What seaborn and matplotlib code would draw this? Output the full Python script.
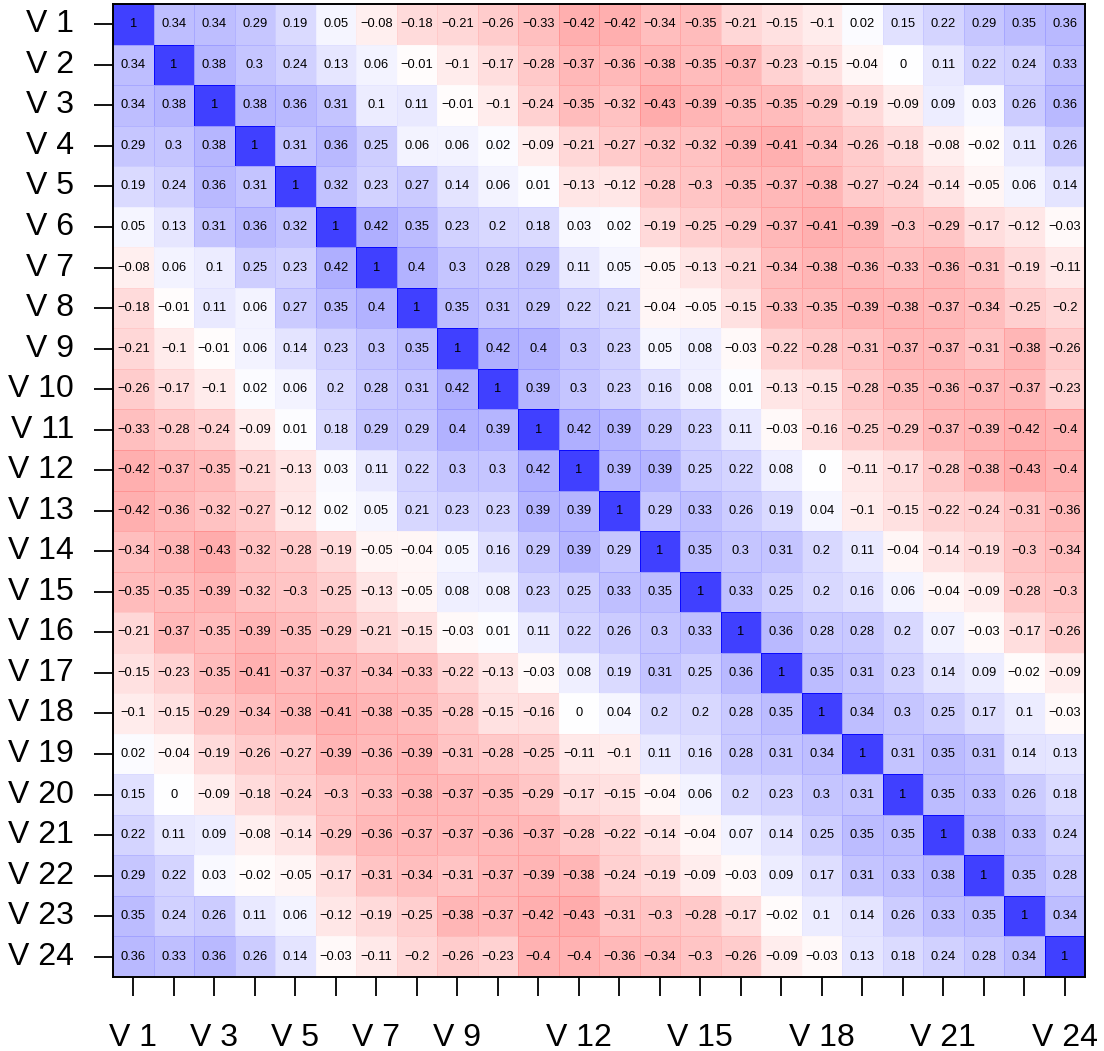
import numpy as np
import pandas as pd
import matplotlib.pyplot as plt
import seaborn as sns
from matplotlib.colors import LinearSegmentedColormap

# variable names and the ones R kept on the x axis
var_names = [f"V {i}" for i in range(1, 25)]
x_shown = ["V 1", "V 3", "V 5", "V 7", "V 9", "V 12", "V 15", "V 18", "V 21", "V 24"]

# correlation matrix, read row by row
corr_rows = [
    [1, 0.34, 0.34, 0.29, 0.19, 0.05, -0.08, -0.18, -0.21, -0.26, -0.33, -0.42, -0.42, -0.34, -0.35, -0.21, -0.15, -0.1, 0.02, 0.15, 0.22, 0.29, 0.35, 0.36],
    [0.34, 1, 0.38, 0.3, 0.24, 0.13, 0.06, -0.01, -0.1, -0.17, -0.28, -0.37, -0.36, -0.38, -0.35, -0.37, -0.23, -0.15, -0.04, 0, 0.11, 0.22, 0.24, 0.33],
    [0.34, 0.38, 1, 0.38, 0.36, 0.31, 0.1, 0.11, -0.01, -0.1, -0.24, -0.35, -0.32, -0.43, -0.39, -0.35, -0.35, -0.29, -0.19, -0.09, 0.09, 0.03, 0.26, 0.36],
    [0.29, 0.3, 0.38, 1, 0.31, 0.36, 0.25, 0.06, 0.06, 0.02, -0.09, -0.21, -0.27, -0.32, -0.32, -0.39, -0.41, -0.34, -0.26, -0.18, -0.08, -0.02, 0.11, 0.26],
    [0.19, 0.24, 0.36, 0.31, 1, 0.32, 0.23, 0.27, 0.14, 0.06, 0.01, -0.13, -0.12, -0.28, -0.3, -0.35, -0.37, -0.38, -0.27, -0.24, -0.14, -0.05, 0.06, 0.14],
    [0.05, 0.13, 0.31, 0.36, 0.32, 1, 0.42, 0.35, 0.23, 0.2, 0.18, 0.03, 0.02, -0.19, -0.25, -0.29, -0.37, -0.41, -0.39, -0.3, -0.29, -0.17, -0.12, -0.03],
    [-0.08, 0.06, 0.1, 0.25, 0.23, 0.42, 1, 0.4, 0.3, 0.28, 0.29, 0.11, 0.05, -0.05, -0.13, -0.21, -0.34, -0.38, -0.36, -0.33, -0.36, -0.31, -0.19, -0.11],
    [-0.18, -0.01, 0.11, 0.06, 0.27, 0.35, 0.4, 1, 0.35, 0.31, 0.29, 0.22, 0.21, -0.04, -0.05, -0.15, -0.33, -0.35, -0.39, -0.38, -0.37, -0.34, -0.25, -0.2],
    [-0.21, -0.1, -0.01, 0.06, 0.14, 0.23, 0.3, 0.35, 1, 0.42, 0.4, 0.3, 0.23, 0.05, 0.08, -0.03, -0.22, -0.28, -0.31, -0.37, -0.37, -0.31, -0.38, -0.26],
    [-0.26, -0.17, -0.1, 0.02, 0.06, 0.2, 0.28, 0.31, 0.42, 1, 0.39, 0.3, 0.23, 0.16, 0.08, 0.01, -0.13, -0.15, -0.28, -0.35, -0.36, -0.37, -0.37, -0.23],
    [-0.33, -0.28, -0.24, -0.09, 0.01, 0.18, 0.29, 0.29, 0.4, 0.39, 1, 0.42, 0.39, 0.29, 0.23, 0.11, -0.03, -0.16, -0.25, -0.29, -0.37, -0.39, -0.42, -0.4],
    [-0.42, -0.37, -0.35, -0.21, -0.13, 0.03, 0.11, 0.22, 0.3, 0.3, 0.42, 1, 0.39, 0.39, 0.25, 0.22, 0.08, 0, -0.11, -0.17, -0.28, -0.38, -0.43, -0.4],
    [-0.42, -0.36, -0.32, -0.27, -0.12, 0.02, 0.05, 0.21, 0.23, 0.23, 0.39, 0.39, 1, 0.29, 0.33, 0.26, 0.19, 0.04, -0.1, -0.15, -0.22, -0.24, -0.31, -0.36],
    [-0.34, -0.38, -0.43, -0.32, -0.28, -0.19, -0.05, -0.04, 0.05, 0.16, 0.29, 0.39, 0.29, 1, 0.35, 0.3, 0.31, 0.2, 0.11, -0.04, -0.14, -0.19, -0.3, -0.34],
    [-0.35, -0.35, -0.39, -0.32, -0.3, -0.25, -0.13, -0.05, 0.08, 0.08, 0.23, 0.25, 0.33, 0.35, 1, 0.33, 0.25, 0.2, 0.16, 0.06, -0.04, -0.09, -0.28, -0.3],
    [-0.21, -0.37, -0.35, -0.39, -0.35, -0.29, -0.21, -0.15, -0.03, 0.01, 0.11, 0.22, 0.26, 0.3, 0.33, 1, 0.36, 0.28, 0.28, 0.2, 0.07, -0.03, -0.17, -0.26],
    [-0.15, -0.23, -0.35, -0.41, -0.37, -0.37, -0.34, -0.33, -0.22, -0.13, -0.03, 0.08, 0.19, 0.31, 0.25, 0.36, 1, 0.35, 0.31, 0.23, 0.14, 0.09, -0.02, -0.09],
    [-0.1, -0.15, -0.29, -0.34, -0.38, -0.41, -0.38, -0.35, -0.28, -0.15, -0.16, 0, 0.04, 0.2, 0.2, 0.28, 0.35, 1, 0.34, 0.3, 0.25, 0.17, 0.1, -0.03],
    [0.02, -0.04, -0.19, -0.26, -0.27, -0.39, -0.36, -0.39, -0.31, -0.28, -0.25, -0.11, -0.1, 0.11, 0.16, 0.28, 0.31, 0.34, 1, 0.31, 0.35, 0.31, 0.14, 0.13],
    [0.15, 0, -0.09, -0.18, -0.24, -0.3, -0.33, -0.38, -0.37, -0.35, -0.29, -0.17, -0.15, -0.04, 0.06, 0.2, 0.23, 0.3, 0.31, 1, 0.35, 0.33, 0.26, 0.18],
    [0.22, 0.11, 0.09, -0.08, -0.14, -0.29, -0.36, -0.37, -0.37, -0.36, -0.37, -0.28, -0.22, -0.14, -0.04, 0.07, 0.14, 0.25, 0.35, 0.35, 1, 0.38, 0.33, 0.24],
    [0.29, 0.22, 0.03, -0.02, -0.05, -0.17, -0.31, -0.34, -0.31, -0.37, -0.39, -0.38, -0.24, -0.19, -0.09, -0.03, 0.09, 0.17, 0.31, 0.33, 0.38, 1, 0.35, 0.28],
    [0.35, 0.24, 0.26, 0.11, 0.06, -0.12, -0.19, -0.25, -0.38, -0.37, -0.42, -0.43, -0.31, -0.3, -0.28, -0.17, -0.02, 0.1, 0.14, 0.26, 0.33, 0.35, 1, 0.34],
    [0.36, 0.33, 0.36, 0.26, 0.14, -0.03, -0.11, -0.2, -0.26, -0.23, -0.4, -0.4, -0.36, -0.34, -0.3, -0.26, -0.09, -0.03, 0.13, 0.18, 0.24, 0.28, 0.34, 1],
]

corr = pd.DataFrame(corr_rows, index=var_names, columns=var_names)

# R-style number labels: no trailing zeros, real minus sign
annot_text = corr.map(lambda v: f"{v:g}".replace("-", "\u2212")).values

sns.set_style("white")
plt.rcParams["font.family"] = ["Liberation Sans", "DejaVu Sans"]

cmap = LinearSegmentedColormap.from_list("rwb", ["red", "white", "blue"])

fig = plt.figure(figsize=(11.04, 10.51), dpi=100)
ax = fig.add_axes([113 / 1104, 1 - 977 / 1051, 972 / 1104, 973 / 1051])

sns.heatmap(
    corr,
    ax=ax,
    cmap=cmap,
    vmin=-1,
    vmax=1,
    alpha=0.75,
    cbar=False,
    annot=annot_text,
    fmt="",
    annot_kws={"color": "black", "fontsize": 9.3},
    linewidths=0.6,
    linecolor="face",
    xticklabels=[n if n in x_shown else "" for n in var_names],
    yticklabels=var_names,
)

# frame and ticks like base R graphics
for spine in ax.spines.values():
    spine.set_visible(True)
    spine.set_color("black")
    spine.set_linewidth(1.4)

ax.tick_params(axis="x", bottom=True, length=14, width=1.3, pad=19,
               labelsize=23, rotation=0, color="black", labelcolor="black")
ax.tick_params(axis="y", left=True, length=14, width=1.3, pad=14,
               labelsize=23, rotation=0, color="black", labelcolor="black")
ax.set_xlabel("")
ax.set_ylabel("")

fig.savefig("out.png", dpi=100)
